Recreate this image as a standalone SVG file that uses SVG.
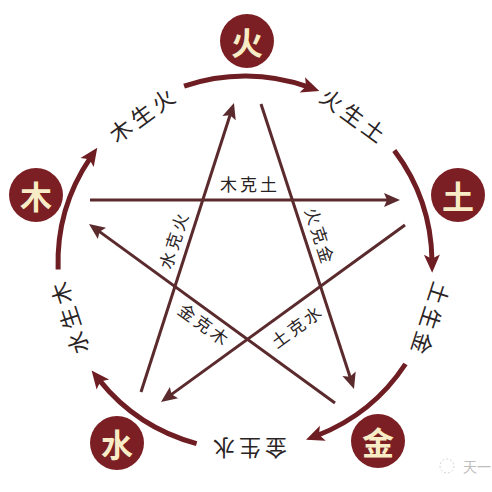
<svg xmlns="http://www.w3.org/2000/svg" width="492" height="492" viewBox="0 0 492 492">
  <style>
    .node circle { fill: #7b1f24; }
    .node text { fill: #f8ecc6; font-family: "Noto Sans CJK SC", "Noto Sans", sans-serif; font-weight: 700; font-size: 32px; text-anchor: middle; dominant-baseline: central; }
    .arc { fill: none; stroke: #6e1e23; stroke-width: 5; marker-end: url(#arcHead); }
    .star { fill: none; stroke: #5a2a2d; stroke-width: 3; marker-end: url(#starHead); }
    .lbl { fill: #2a2324; font-family: "Liberation Sans", "Noto Sans CJK SC", sans-serif; font-size: 22px; letter-spacing: 4px; text-anchor: middle; dominant-baseline: central; }
    .klbl { fill: #2a2324; font-family: "Liberation Sans", "Noto Sans CJK SC", sans-serif; font-size: 17px; letter-spacing: 3px; text-anchor: middle; dominant-baseline: central; }
  </style>
  <defs>
    <marker id="arcHead" markerUnits="userSpaceOnUse" markerWidth="18" markerHeight="16" refX="6" refY="8" orient="auto" overflow="visible">
      <path d="M0,0 L18,8 L0,16 L4,8 z" fill="#6e1e23"/>
    </marker>
    <marker id="starHead" markerUnits="userSpaceOnUse" markerWidth="16" markerHeight="14" refX="6" refY="7" orient="auto" overflow="visible">
      <path d="M0,0 L16,7 L0,14 L3,7 z" fill="#5a2a2d"/>
    </marker>
  </defs>
  <rect width="492" height="492" fill="#ffffff"/>

  <g id="connectors">
    <path class="arc" d="M184.1,86.2 A187,187 0 0 1 308.0,86.9"/>
    <path class="arc" d="M394.3,150.5 A187,187 0 0 1 432.0,260.7"/>
    <path class="arc" d="M405.5,364.0 A187,187 0 0 1 317.2,435.5"/>
    <path class="arc" d="M196.6,443.6 A187,187 0 0 1 99.1,379.9"/>
    <path class="arc" d="M58.1,269.5 A187,187 0 0 1 90.5,157.6"/>
    <path class="star" d="M90,200 L390,200"/>
    <path class="star" d="M261,104 L350.9,379.5"/>
    <path class="star" d="M405,225 L169.1,396.1"/>
    <path class="star" d="M335,403 L97.1,229.9"/>
    <path class="star" d="M141,392 L230.9,112.5"/>

    <text class="lbl" transform="translate(144,115) rotate(-36)">木生火</text>
    <text class="lbl" transform="translate(354,117) rotate(36)">火生土</text>
    <text class="lbl" transform="translate(429,320) rotate(108)">土生金</text>
    <text class="lbl" transform="translate(248,447) rotate(180)">金生水</text>
    <text class="lbl" transform="translate(70,316) rotate(252)">水生木</text>

    <text class="klbl" transform="translate(250,185)">木克土</text>
    <text class="klbl" transform="translate(175,240) rotate(-72)">水克火</text>
    <text class="klbl" transform="translate(319,237) rotate(72)">火克金</text>
    <text class="klbl" transform="translate(204,326) rotate(36)">金克木</text>
    <text class="klbl" transform="translate(298,327) rotate(-36)">土克水</text>
  </g>

  <g id="node-huo" class="node"><circle cx="247" cy="41" r="27"/><text x="247" y="41">火</text></g>
  <g id="node-mu" class="node"><circle cx="36" cy="195" r="27"/><text x="36" y="195">木</text></g>
  <g id="node-tu" class="node"><circle cx="458" cy="195" r="27"/><text x="458" y="195">土</text></g>
  <g id="node-shui" class="node"><circle cx="117" cy="443" r="27"/><text x="117" y="443">水</text></g>
  <g id="node-jin" class="node"><circle cx="378" cy="441" r="27"/><text x="378" y="441">金</text></g>

  <g id="watermark" opacity="0.55">
    <circle cx="447" cy="466" r="7" fill="none" stroke="#b0b0b0" stroke-width="1" stroke-dasharray="2 2"/>
    <text x="491" y="472" text-anchor="end" font-family="Liberation Sans, Noto Sans CJK SC, sans-serif" font-size="14" fill="#888">天一</text>
  </g>
</svg>
